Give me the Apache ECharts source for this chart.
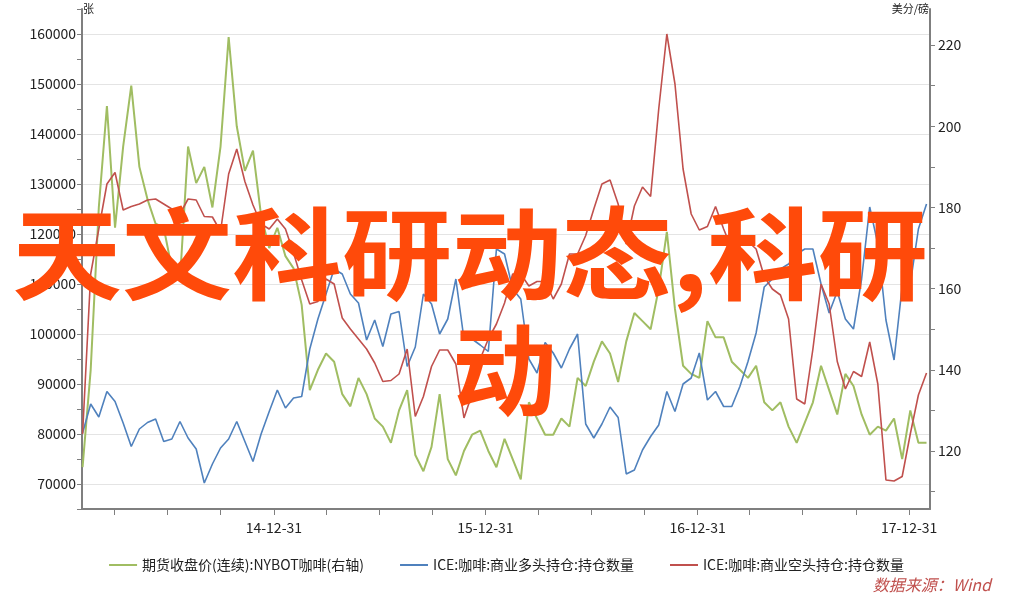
<!DOCTYPE html>
<html><head><meta charset="utf-8">
<script src="https://cdn.jsdelivr.net/npm/echarts@6/dist/echarts.min.js"></script>
<style>html,body{margin:0;padding:0;background:#fff}#c{width:1013px;height:602px}</style>
</head><body><div id="c"></div>
<script>
const startDate = '2014-02-04';
const stepDays = 14;
const seriesNames = ['期货收盘价(连续):NYBOT咖啡(右轴)', 'ICE:咖啡:商业多头持仓:持仓数量', 'ICE:咖啡:商业空头持仓:持仓数量'];
const coffeePrice = [116,140,180,205,175,195,210,190,182,176,175,165,162,195,186,190,180,195,222,200,189,194,178,170,175,168,165,156,135,140,144,142,134,131,138,134,128,126,122,130,135,119,115,121,134,118,114,120,124,125,120,116,123,118,113,132,128,124,124,128,126,138,136,142,147,144,137,147,154,152,150,160,174,155,141,139,138,152,148,148,142,140,138,141,132,130,132,126,122,127,132,141,135,129,139,136,129,124,126,125,128,118,130,122,122];
const longPos = [80200,86000,83400,88500,86500,82200,77500,81000,82300,83000,78500,79000,82500,79200,77000,70200,74000,77200,79000,82500,78500,74500,80000,84500,88800,85200,87200,87500,97000,103000,108000,113000,112000,108000,106200,98800,102800,97500,104000,104500,93500,97400,108000,106000,100000,103000,111000,99000,99000,97800,96500,117000,116000,109000,107000,95000,92200,98300,96200,93200,97000,100000,82000,79200,82000,85400,83300,72000,72800,76800,79500,81800,88500,84500,90000,91200,96200,86800,88500,85500,85500,89500,94500,100200,109400,111000,113000,114000,116000,117000,117000,110000,104200,108500,103000,101000,111000,125400,118000,102800,94800,109500,110000,121000,126000];
const shortPos = [80000,112000,121000,130000,132300,124800,125500,126000,126800,127000,126000,125000,124000,127000,126800,123500,123400,120500,132000,137000,130500,125800,122000,121000,123000,121000,116200,110800,106000,106500,111000,110000,103200,101000,99000,97000,94200,90500,90700,92000,97000,83500,87500,93500,96800,96800,94000,83200,88000,95000,99000,102000,106200,112000,112000,109600,110500,110500,107000,110000,116000,116000,119700,125000,130000,130800,126000,118000,125600,129400,127500,145000,160000,150000,133000,124000,120800,121500,125500,121000,117000,118000,118500,117000,111500,109000,107800,103000,87000,86000,97000,110000,106000,94500,89000,92500,91500,98400,90000,70800,70600,71500,80000,87800,92200];
const quarterTicks = ['2014-03-31','2014-06-30','2014-09-30','2014-12-31','2015-03-31','2015-06-30','2015-09-30','2015-12-31','2016-03-31','2016-06-30','2016-09-30','2016-12-31','2017-03-31','2017-06-30','2017-09-30','2017-12-31'];
const yearLabels = ['2014-12-31','2015-12-31','2016-12-31','2017-12-31'];
const rightTicks = [110,120,130,140,150,160,170,180,190,200,210,220];
const rightLabels = [120,140,160,180,200,220];

const t0 = new Date(startDate + 'T00:00:00Z').getTime();
const dates = coffeePrice.map((_, i) => t0 + i * stepDays * 86400000);
const ts = s => new Date(s + 'T00:00:00Z').getTime();
const pair = arr => arr.map((v, i) => [dates[i], v]);
const font = '"Microsoft YaHei","Noto Sans CJK SC",sans-serif';
const axisCol = '#7f7f7f';

const chart = echarts.init(document.getElementById('c'));
chart.setOption({
  animation: false,
  textStyle: {fontFamily: font},
  grid: {left: 82, right: 83, top: 9, bottom: 93},
  legend: {
    bottom: 25, left: 'center', itemGap: 36, itemWidth: 28, itemHeight: 2, icon: 'rect',
    textStyle: {fontSize: 14, color: '#222', fontFamily: font},
    data: seriesNames
  },
  xAxis: {
    type: 'value', min: ts('2014-02-03'), max: ts('2018-02-05'), scale: true,
    axisLine: {lineStyle: {color: axisCol, width: 2}},
    axisTick: {show: true, length: 6, lineStyle: {color: axisCol}, customValues: quarterTicks.map(ts)},
    axisLabel: {customValues: yearLabels.map(ts), fontSize: 14, color: '#222', margin: 12,
      formatter: v => { const d = new Date(v); return String(d.getUTCFullYear()).slice(2) + '-' + String(d.getUTCMonth()+1).padStart(2,'0') + '-' + String(d.getUTCDate()).padStart(2,'0'); }},
    splitLine: {show: false}
  },
  yAxis: [{
    type: 'value', min: 65000, max: 165000, interval: 5000, position: 'left',
    axisLine: {show: true, lineStyle: {color: axisCol, width: 2}},
    axisTick: {show: true, length: 5, lineStyle: {color: axisCol}},
    axisLabel: {fontSize: 14, color: '#222', margin: 6, formatter: v => (v % 10000 === 0 && v <= 160000) ? String(v) : ''},
    splitLine: {show: true, lineStyle: {color: ['transparent', '#e4e4e4'], width: 1}}
  }, {
    type: 'value', min: 105.7, max: 228.9, position: 'right',
    axisLine: {show: true, lineStyle: {color: axisCol, width: 2}},
    axisTick: {show: true, length: 5, lineStyle: {color: axisCol}, customValues: rightTicks},
    axisLabel: {fontSize: 14, color: '#222', margin: 8, customValues: rightLabels},
    splitLine: {show: false}
  }],
  series: [
    {name: seriesNames[0], type: 'line', yAxisIndex: 1, data: pair(coffeePrice), showSymbol: false, itemStyle: {color: '#a0bd62'}, lineStyle: {color: '#a0bd62', width: 2}},
    {name: seriesNames[1], type: 'line', yAxisIndex: 0, data: pair(longPos), showSymbol: false, itemStyle: {color: '#4f81bd'}, lineStyle: {color: '#4f81bd', width: 1.6}},
    {name: seriesNames[2], type: 'line', yAxisIndex: 0, data: pair(shortPos), showSymbol: false, itemStyle: {color: '#c0504d'}, lineStyle: {color: '#c0504d', width: 1.6}}
  ],
  graphic: [
    {type: 'text', left: 83, top: 3, style: {text: '张', fontSize: 11, fill: '#222', fontFamily: font}},
    {type: 'text', right: 84, top: 3, style: {text: '美分/磅', fontSize: 11, fill: '#222', fontFamily: font}},
    {type: 'text', right: 22, top: 577, style: {text: '数据来源：Wind', fontSize: 16, fontStyle: 'italic', fill: '#c0504d', fontFamily: font}},
    {type: 'text', x: 12, y: 204, scaleX: 1.1, z: 100, style: {text: '天文科研动态,科研', fontSize: 100, fontWeight: 'bold', fill: '#ff4a0a', fontFamily: '"Noto Sans CJK SC",sans-serif'}},
    {type: 'text', x: 452, y: 320, scaleX: 1.05, z: 100, style: {text: '动', fontSize: 100, fontWeight: 'bold', fill: '#ff4a0a', fontFamily: '"Noto Sans CJK SC",sans-serif'}}
  ]
});
</script></body></html>
